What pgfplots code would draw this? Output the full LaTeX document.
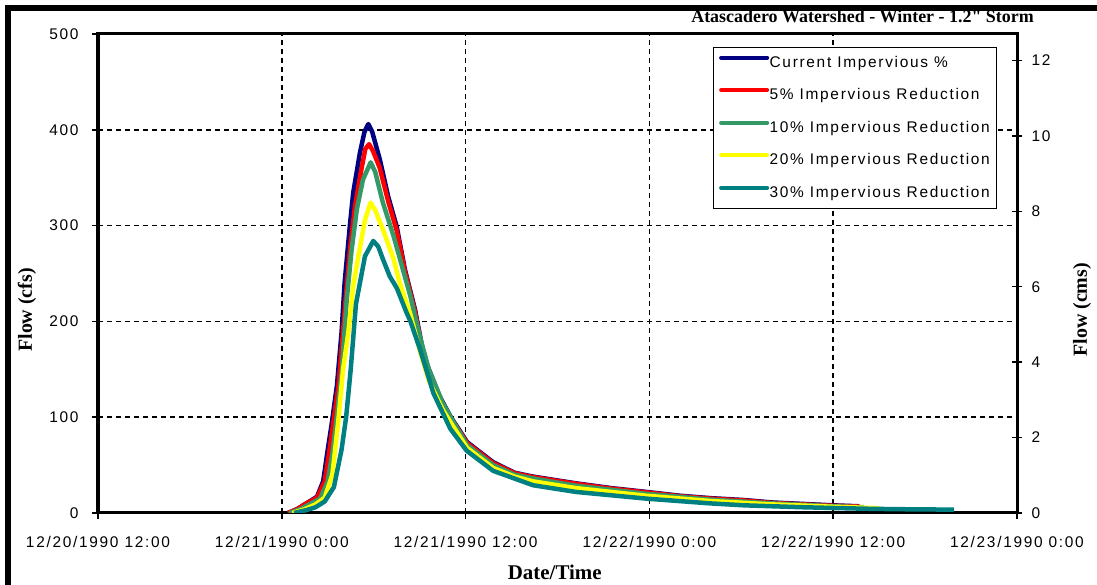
\documentclass[border=0pt]{standalone}
\usepackage{fontspec}
\setmainfont{Liberation Serif}
\newfontfamily\sansfnt[LetterSpace=11]{Liberation Sans}
\newfontfamily\titlefnt{Liberation Serif}
\usepackage{pgfplots}
\pgfplotsset{compat=1.18}

\definecolor{cblue}{RGB}{0,0,128}
\definecolor{cred}{RGB}{255,0,0}
\definecolor{cgreen}{RGB}{51,153,102}
\definecolor{cyellow}{RGB}{255,255,0}
\definecolor{cteal}{RGB}{0,128,128}

\newcommand{\sfs}{\sansfnt\fontsize{15.5}{18}\selectfont}
\newcommand{\lbl}{\fontsize{20}{24}\selectfont\bfseries}

\begin{document}
\begin{tikzpicture}
\useasboundingbox (0,0) rectangle (1097bp,585bp);
\draw[line width=6bp] (8bp,-10bp) -- (8bp,577bp) -- (1110bp,577bp);

\begin{axis}[
    at={(98bp,72bp)}, anchor=south west,
    width=919bp, height=479bp, scale only axis,
    xmin=0, xmax=60, ymin=0, ymax=500,
    xtick={0,12,...,60},
    xticklabels={12/20/1990 12:00, 12/21/1990 0:00, 12/21/1990 12:00,
                 12/22/1990 0:00, 12/22/1990 12:00, 12/23/1990 0:00},
    ytick={0,100,...,500},
    xtick pos=left, ytick pos=left,
    tick align=outside, major tick length=6bp,
    tick style={black, line width=1.5bp},
    axis line style={line width=3bp},
    grid=major,
    major grid style={black, line width=1.5bp, dash pattern=on 5bp off 4bp},
    tick label style={font=\sfs},
    xticklabel style={yshift=-14bp},
    yticklabel style={xshift=-10bp},
    /pgf/number format/assume math mode=true,
    xlabel={Date/Time},
    xlabel style={at={(axis description cs:0.497,-0.123)}, anchor=center, font=\fontsize{21}{24}\selectfont\bfseries},
    ylabel={Flow (cfs)},
    ylabel style={at={(axis description cs:-0.0773,0.424)}, anchor=center, font=\lbl},
    title={Atascadero Watershed - Winter - 1.2" Storm},
    title style={at={(axis description cs:1.0185,1.0125)}, anchor=base east, inner sep=0pt, font=\titlefnt\fontsize{18}{20}\selectfont\bfseries},
    every axis plot/.append style={line width=4.5bp, line join=round},
    legend image code/.code={\draw[#1, line width=4bp, line cap=round] (0bp,5.5bp) -- (46bp,5.5bp);},
    legend cell align=left,
    legend style={at={(axis description cs:0.9782,0.9729)}, anchor=north east,
        draw=black, line width=1.2bp, fill=white,
        inner xsep=6bp, inner ysep=7bp, row sep=15.5bp, font=\sfs,
        nodes={inner xsep=0.5bp, inner ysep=0bp, text height=12.5bp, text depth=4.5bp}},
]
% Current Impervious %
\addplot[cblue] coordinates {
(12.4,0) (13.0,4) (13.6,10) (14.3,17) (14.7,33) (15.0,66) (15.25,92) (15.6,133)
(15.9,188) (16.1,240) (16.45,301) (16.66,334) (17.1,376) (17.4,398) (17.65,406)
(17.9,398) (18.4,369) (18.95,330) (19.5,299) (20.04,254) (20.7,212) (21.3,162)
(22.3,122) (23.0,101) (24.1,74) (25.8,53) (27.2,42) (28.4,38) (31.2,31) (33.5,26)
(35.8,22) (38.0,18) (40.0,15.5) (42.2,13.5) (44.0,11) (46.0,9.5) (48.0,8) (49.7,7)
};
\addlegendentry{Current Impervious \%}
% 5% reduction
\addplot[cred] coordinates {
(12.4,0) (13.0,4) (13.6,10) (14.3,16) (14.8,33) (15.1,64) (15.35,93) (15.7,133)
(15.95,180) (16.13,216) (16.45,275) (16.78,320) (17.2,359) (17.45,380) (17.7,385)
(17.95,378) (18.4,360) (18.95,325) (19.5,295) (20.04,252) (20.7,210) (21.3,160)
(22.3,120) (23.0,100) (24.1,73) (25.8,52) (27.2,41.5) (28.4,37.5) (31.2,30.5)
(33.5,25.5) (35.8,21.5) (38.0,17.5) (40.0,15) (42.2,13) (44.0,10.5) (46.0,9)
(48.0,7.5) (49.7,6.8)
};
\addlegendentry{5\% Impervious Reduction}
% 10% reduction
\addplot[cgreen] coordinates {
(12.5,0) (13.2,4) (13.8,9) (14.5,15) (15.0,33) (15.3,62) (15.55,95) (15.9,145)
(16.24,223) (16.56,275) (16.9,317) (17.3,348) (17.8,366) (18.1,356) (18.6,324)
(19.3,289) (20.4,226) (21.0,185) (21.6,150) (22.5,115) (23.2,95) (24.1,71)
(25.8,50) (27.2,40) (28.4,36) (31.2,28.5) (35.8,20) (40.0,14) (44.0,10) (48.0,7)
(50.0,6)
};
\addlegendentry{10\% Impervious Reduction}
% 20% reduction
\addplot[cyellow] coordinates {
(12.7,0) (13.5,4) (14.2,9) (14.8,16) (15.3,40) (15.7,98) (16.0,150) (16.34,188)
(16.66,237) (17.0,268) (17.43,306) (17.8,324) (18.1,316) (18.6,296) (19.3,265)
(19.7,240) (20.4,207) (21.0,170) (21.6,138) (22.5,108) (23.2,90) (24.1,68)
(25.8,47) (27.2,38) (28.4,33) (31.2,26) (35.8,18) (40.0,12.5) (44.0,9) (48.0,6.5)
(51.0,5)
};
\addlegendentry{20\% Impervious Reduction}
% 30% reduction
\addplot[cteal] coordinates {
(12.8,0) (13.6,3) (14.2,6) (14.8,12) (15.4,27) (15.9,66) (16.2,100) (16.5,150)
(16.84,218) (17.43,268) (17.97,284) (18.3,278) (18.6,265) (19.05,247) (19.5,235)
(20.15,209) (20.4,200) (21.0,172) (21.9,125) (23.0,88) (24.07,65) (25.8,44)
(28.4,29) (31.2,22) (35.8,15) (40.0,10) (42.2,8) (46.0,6) (50.0,4.5) (52.0,4)
(55.9,3.5)
};
\addlegendentry{30\% Impervious Reduction}
\end{axis}

\begin{axis}[
    at={(98bp,72bp)}, anchor=south west,
    width=919bp, height=479bp, scale only axis,
    xmin=0, xmax=60, ymin=0, ymax=12.7,
    axis x line=none, axis y line*=right,
    ytick={0,2,...,12},
    tick align=center, major tick length=10bp,
    tick style={black, line width=1.5bp},
    axis line style={line width=3bp, -},
    tick label style={font=\sfs},
    yticklabel style={xshift=6bp},
    /pgf/number format/assume math mode=true,
    ylabel={Flow (cms)},
    ylabel style={at={(axis description cs:1.0707,0.424)}, anchor=center, rotate=0, font=\lbl},
]
\end{axis}
\end{tikzpicture}
\end{document}
